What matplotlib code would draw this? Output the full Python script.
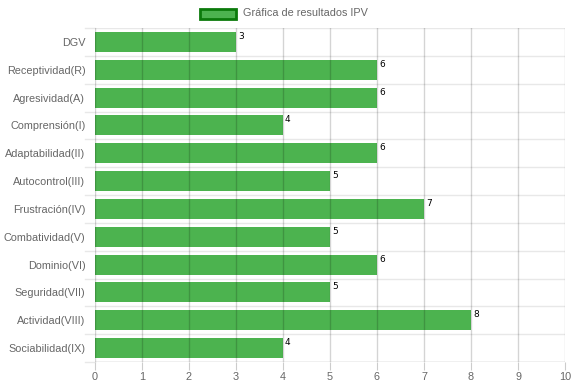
import matplotlib
matplotlib.use("Agg")
import matplotlib.pyplot as plt
from matplotlib.patches import Rectangle

categories = ["DGV", "Receptividad(R)", "Agresividad(A)", "Comprensión(I)",
              "Adaptabilidad(II)", "Autocontrol(III)", "Frustración(IV)",
              "Combatividad(V)", "Dominio(VI)", "Seguridad(VII)",
              "Actividad(VIII)", "Sociabilidad(IX)"]
values = [3, 6, 6, 4, 6, 5, 7, 5, 6, 5, 8, 4]
xticks = list(range(0, 11))
legend_label = "Gráfica de resultados IPV"

plt.rcParams['font.family'] = ['Liberation Sans', 'DejaVu Sans']

fig = plt.figure(figsize=(5.74, 3.86), dpi=100)
ax = fig.add_axes([95/574, 1-362/386, 470/574, 334/386])

n = len(categories)
ypos = list(range(n))
bar_color = "#4CB34F"
bars = ax.barh(ypos, values, height=0.72, color=bar_color, zorder=2,
               label=legend_label, edgecolor="none")

ax.set_xlim(0, 10)
ax.set_ylim(n - 0.5, -0.5)
ax.set_xticks(xticks)
ax.set_xticklabels([str(t) for t in xticks])
ax.set_yticks(ypos)
ax.set_yticklabels(categories)

# grid lines
for t in xticks:
    ax.axvline(t, color=(0, 0, 0, 0.17), lw=1, zorder=3)
for b in [i - 0.5 for i in range(n + 1)]:
    ax.axhline(b, color="#e8e8e8", lw=1, zorder=1)

for s in ax.spines.values():
    s.set_visible(False)
ax.axhline(n - 0.5, color="#c8c8c8", lw=1, zorder=4)

ax.tick_params(axis='x', length=6, color="#cccccc", labelcolor="#666666",
               labelsize=7.8, pad=1)
ax.tick_params(axis='y', length=0, labelcolor="#666666", labelsize=7.8, pad=7)

# left tick marks for category boundaries
for b in [i - 0.5 for i in range(n + 1)]:
    ax.plot([-0.21, 0], [b, b], color="#e8e8e8", lw=1, clip_on=False, zorder=1)

for i, v in enumerate(values):
    ax.text(v + 0.04, i - 0.36, str(v), fontsize=6.5, color="black",
            va="top", ha="left", family="DejaVu Sans", zorder=5)

# legend
lx, ly = 200/574, 1-19/386
fig.patches.append(Rectangle((lx, ly), 36/574, 10/386, transform=fig.transFigure,
                             facecolor=bar_color, edgecolor="#0b7a0b", lw=2))
fig.text(243/574, 1-13/386, legend_label, fontsize=7.8, color="#666666",
         va="center", ha="left")

fig.savefig("out.png", dpi=100)
